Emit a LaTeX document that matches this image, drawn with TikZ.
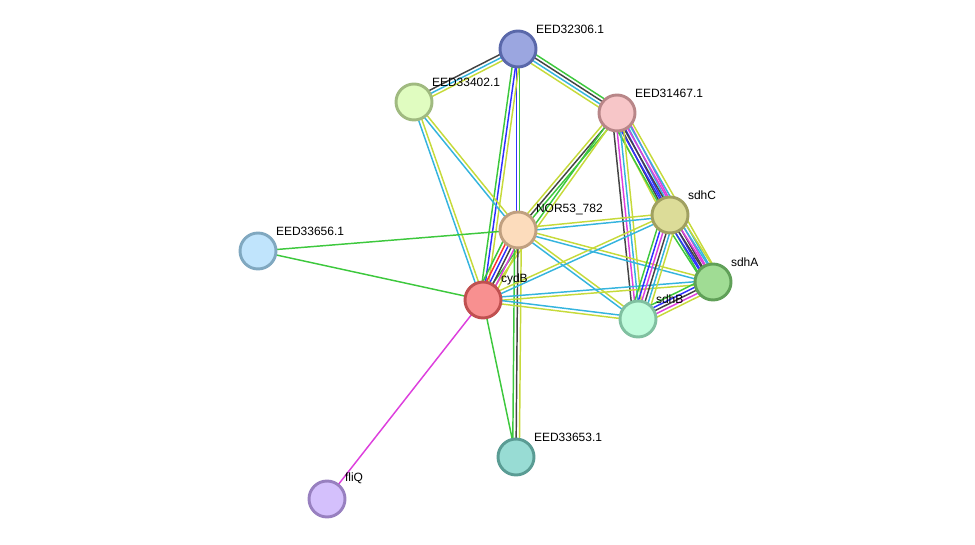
\documentclass[tikz,border=0pt]{standalone}
\usepackage{fontspec}
\setmainfont{Liberation Sans}
\usetikzlibrary{calc,backgrounds}

% evidence colours
\definecolor{sgreen}{HTML}{3DC83D}
\definecolor{sred}{HTML}{FF3030}
\definecolor{sblue}{HTML}{3030FF}
\definecolor{sblack}{HTML}{444444}
\definecolor{smag}{HTML}{DD3FDD}
\definecolor{scyan}{HTML}{35B4DE}
\definecolor{syel}{HTML}{C6DA3A}

% #1,#2 nodes, #3 number of lines, #4 colours
\newcommand{\link}[4]{%
  \foreach \c [count=\i] in {#4} {
    \pgfmathsetmacro{\off}{(\i-(#3+1)/2)*2.5}
    \draw[edge, \c] ($(#1)!\off pt!90:(#2)$) -- ($(#2)!\off pt!-90:(#1)$);
  }}

\begin{document}
\begin{tikzpicture}[x=0.75pt, y=-0.75pt,
    prot/.style={circle, minimum size=27pt, inner sep=0pt, line width=2.2pt},
    lbl/.style={font=\fontsize{9}{10}\selectfont, inner sep=0pt, xshift=3pt, yshift=1pt},
    edge/.style={line width=1.1pt}]

    \useasboundingbox (0,0) rectangle (975,545);

    % proteins
    \node[prot, fill={rgb,255:red,155;green,166;blue,224}, draw={rgb,255:red,90;green,104;blue,170},
          label={[lbl]45:EED32306.1}] (e32306) at (518,49) {};
    \node[prot, fill={rgb,255:red,224;green,252;blue,192}, draw={rgb,255:red,160;green,186;blue,128},
          label={[lbl]45:EED33402.1}] (e33402) at (414,102) {};
    \node[prot, fill={rgb,255:red,247;green,198;blue,200}, draw={rgb,255:red,184;green,134;blue,136},
          label={[lbl]45:EED31467.1}] (e31467) at (617,113) {};
    \node[prot, fill={rgb,255:red,252;green,220;blue,188}, draw={rgb,255:red,192;green,160;blue,128},
          label={[lbl]45:NOR53\_782}] (nor) at (518,230) {};
    \node[prot, fill={rgb,255:red,220;green,220;blue,152}, draw={rgb,255:red,160;green,160;blue,96},
          label={[lbl]45:sdhC}] (sdhC) at (670,215) {};
    \node[prot, fill={rgb,255:red,160;green,220;blue,148}, draw={rgb,255:red,96;green,160;blue,88},
          label={[lbl]45:sdhA}] (sdhA) at (713,282) {};
    \node[prot, fill={rgb,255:red,192;green,252;blue,220}, draw={rgb,255:red,128;green,192;blue,160},
          label={[lbl]45:sdhB}] (sdhB) at (638,319) {};
    \node[prot, fill={rgb,255:red,248;green,144;blue,144}, draw={rgb,255:red,192;green,80;blue,80},
          label={[lbl]45:cydB}] (cydB) at (483,300) {};
    \node[prot, fill={rgb,255:red,192;green,228;blue,252}, draw={rgb,255:red,128;green,168;blue,192},
          label={[lbl]45:EED33656.1}] (e33656) at (258,251) {};
    \node[prot, fill={rgb,255:red,152;green,220;blue,212}, draw={rgb,255:red,90;green,156;blue,148},
          label={[lbl]45:EED33653.1}] (e33653) at (516,457) {};
    \node[prot, fill={rgb,255:red,212;green,192;blue,252}, draw={rgb,255:red,152;green,128;blue,192},
          label={[lbl]45:fliQ}] (fliQ) at (327,499) {};

    % interactions
    \begin{pgfonlayer}{background}
        \link{e32306}{e33402}{3}{sblack,scyan,syel}
        \link{e32306}{e31467}{4}{syel,scyan,sblack,sgreen}
        \link{e32306}{nor}{2}{sblue,sgreen}
        \link{e32306}{cydB}{3}{sgreen,sblue,syel}
        \link{e33402}{nor}{2}{scyan,syel}
        \link{e33402}{cydB}{2}{scyan,syel}
        \link{e31467}{nor}{3}{syel,sblack,sgreen}
        \link{e31467}{cydB}{2}{sgreen,syel}
        \link{e31467}{sdhC}{5}{syel,sblack,sblue,scyan,smag}
        \link{e31467}{sdhA}{6}{sgreen,sblue,sblack,smag,scyan,syel}
        \link{e31467}{sdhB}{4}{sblack,smag,scyan,syel}
        \link{nor}{cydB}{6}{sgreen,sred,sblue,sblack,smag,syel}
        \link{nor}{e33653}{3}{sgreen,sblack,syel}
        \link{cydB}{e33653}{1}{sgreen}
        \link{cydB}{fliQ}{1}{smag}
        \link{e33656}{nor}{1}{sgreen}
        \link{e33656}{cydB}{1}{sgreen}
        \link{nor}{sdhC}{2}{scyan,syel}
        \link{nor}{sdhA}{2}{scyan,syel}
        \link{nor}{sdhB}{2}{scyan,syel}
        \link{cydB}{sdhC}{2}{scyan,syel}
        \link{cydB}{sdhA}{2}{syel,scyan}
        \link{cydB}{sdhB}{2}{syel,scyan}
        \link{sdhC}{sdhA}{6}{sgreen,sblue,sblack,smag,scyan,syel}
        \link{sdhC}{sdhB}{6}{sgreen,sblue,smag,sblack,scyan,syel}
        \link{sdhA}{sdhB}{5}{sgreen,sblue,sblack,smag,syel}
    \end{pgfonlayer}

\end{tikzpicture}
\end{document}
